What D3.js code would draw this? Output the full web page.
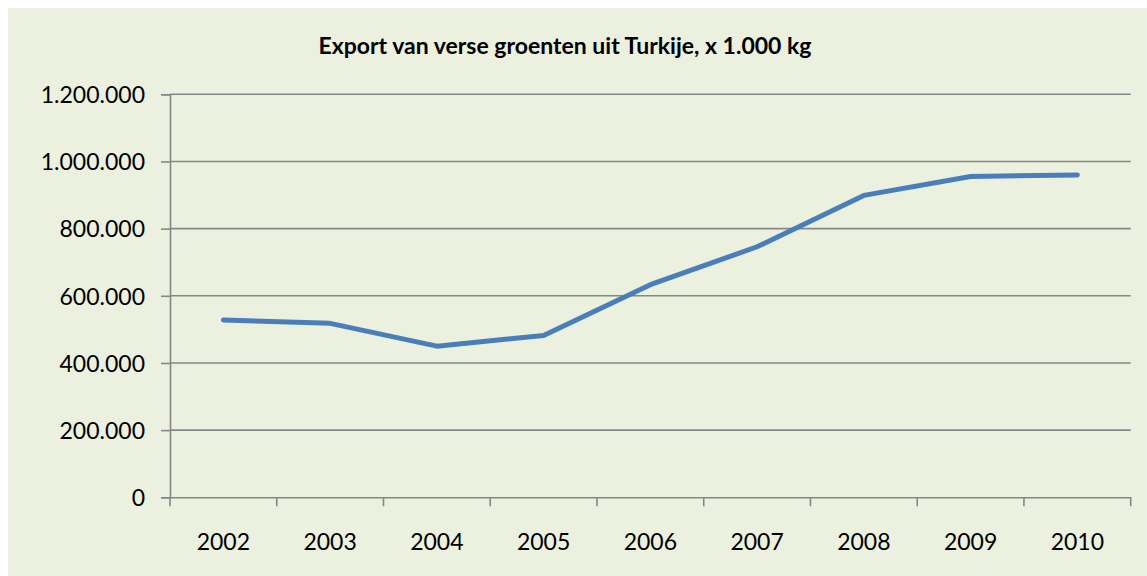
<!DOCTYPE html>
<html>
<head>
<meta charset="utf-8">
<script src="https://cdn.jsdelivr.net/npm/d3@7"></script>
<style>
  body { margin: 0; background: #fff; }
  svg { display: block; }
</style>
</head>
<body>
<script>
var years = ["2002", "2003", "2004", "2005", "2006", "2007", "2008", "2009", "2010"];
var exportValues = [528000, 518000, 450000, 482000, 633000, 746000, 899000, 955000, 960000];
var yTicks = [0, 200000, 400000, 600000, 800000, 1000000, 1200000];
var title = "Export van verse groenten uit Turkije, x 1.000 kg";

var width = 1147,
	height = 576;

var margin = {left: 170, right: 16, top: 95, bottom: 78};

var svg = d3.select("body").append("svg")
	.attr("width", width)
	.attr("height", height);

// chart background
svg.append("rect")
	.attr("x", 8)
	.attr("y", 8)
	.attr("width", width - 8)
	.attr("height", height - 8)
	.style("fill", "#EBF0DF");

var xScale = d3.scaleBand()
	.domain(years)
	.range([margin.left, width - margin.right - 0.3]);

var yScale = d3.scaleLinear()
	.domain([0, 1200000])
	.range([height - margin.bottom - 0.7, margin.top - 0.7]);

var fmt = function(v){
	return d3.format(",")(v).replace(/,/g, ".");
};

// gridlines
svg.append("g")
	.selectAll("line")
	.data(yTicks.slice(1))
	.enter().append("line")
		.attr("x1", margin.left)
		.attr("x2", xScale.range()[1])
		.attr("y1", function(d){ return yScale(d); })
		.attr("y2", function(d){ return yScale(d); })
		.style("stroke", "#878787")
		.style("stroke-width", 1.6);

var yAxis = svg.append("g")
	.attr("transform", "translate(" + margin.left + ",0)")
	.call(d3.axisLeft(yScale).tickValues(yTicks).tickFormat(fmt).tickSize(9).tickPadding(16));

var xAxis = svg.append("g")
	.attr("transform", "translate(0," + yScale(0) + ")")
	.call(d3.axisBottom(xScale).tickSize(0).tickPadding(36));

// category boundary ticks
xAxis.selectAll(".bound")
	.data(d3.range(years.length + 1))
	.enter().append("line")
		.classed("bound", true)
		.attr("x1", function(i){ return xScale.range()[0] + i * xScale.step(); })
		.attr("x2", function(i){ return xScale.range()[0] + i * xScale.step(); })
		.attr("y1", 0)
		.attr("y2", 9);

svg.selectAll(".domain, .tick line, .bound")
	.style("stroke", "#878787")
	.style("stroke-width", 1.6);

svg.selectAll(".tick text")
	.style("font-family", "Lato, sans-serif")
	.style("font-size", "23px")
	.style("fill", "#000");

yAxis.selectAll(".tick text").attr("dy", "0.36em");

var line = d3.line()
	.x(function(d, i){ return xScale(years[i]) + xScale.bandwidth() / 2; })
	.y(function(d){ return yScale(d); });

svg.append("path")
	.datum(exportValues)
	.attr("d", line)
	.style("fill", "none")
	.style("stroke", "#4A7EBB")
	.style("stroke-width", 5)
	.style("stroke-linejoin", "round")
	.style("stroke-linecap", "round");

svg.append("text")
	.attr("x", 565)
	.attr("y", 54)
	.attr("text-anchor", "middle")
	.style("font-family", "Lato, sans-serif")
	.style("font-weight", "bold")
	.style("font-size", "23px")
	.text(title);
</script>
</body>
</html>
